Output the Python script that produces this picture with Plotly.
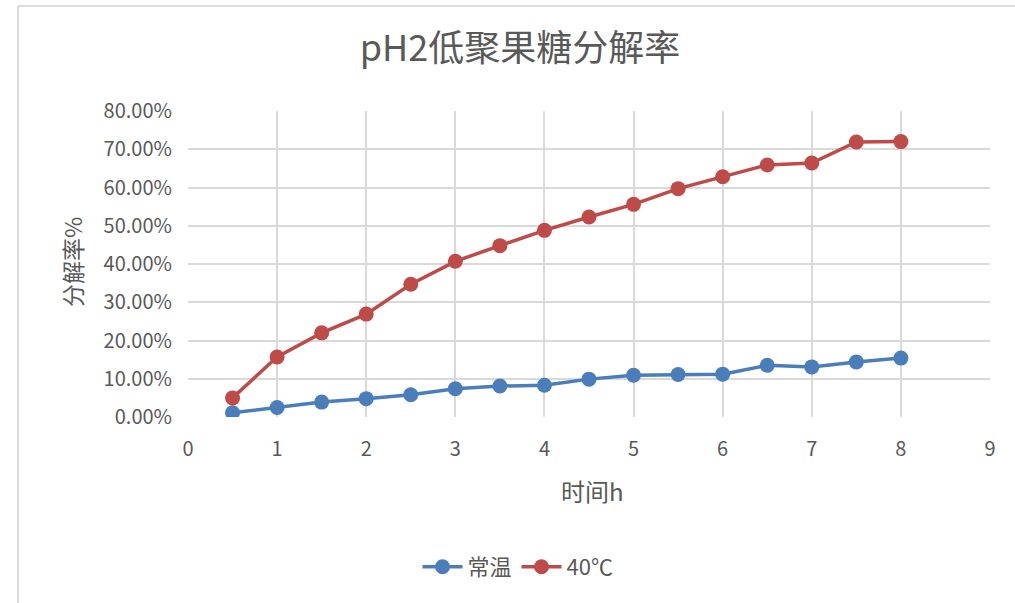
import plotly.graph_objects as go

# Sampling times (hours)
hours = [0.5, 1, 1.5, 2, 2.5, 3, 3.5, 4, 4.5, 5, 5.5, 6, 6.5, 7, 7.5, 8]

# Decomposition rate (fraction) at room temperature and at 40 °C
room_temp = [0.011, 0.025, 0.039, 0.048, 0.058, 0.074, 0.081, 0.083, 0.099,
             0.109, 0.111, 0.112, 0.135, 0.131, 0.144, 0.154]
temp_40c = [0.050, 0.157, 0.220, 0.269, 0.347, 0.407, 0.448, 0.488, 0.523,
            0.556, 0.597, 0.628, 0.659, 0.664, 0.719, 0.720]

series_names = ["常温", "40℃"]
series_colors = ["#4a7ebb", "#be4b48"]

y_ticks = [0, 0.1, 0.2, 0.3, 0.4, 0.5, 0.6, 0.7, 0.8]
x_ticks = list(range(0, 10))

FONT = "Noto Sans CJK SC"
TEXT = "#595959"
GRID = "#d9d9d9"

fig = go.Figure()
for name, vals, col in zip(series_names, [room_temp, temp_40c], series_colors):
    fig.add_trace(go.Scatter(
        x=hours, y=vals, name=name, mode="lines+markers",
        line=dict(color=col, width=3.5),
        marker=dict(color=col, size=15),
    ))

W, H = 1015, 603
L, R, T, B = 188, 25, 111, 186
pw, ph = W - L - R, H - T - B


def px_to_paper_x(px):
    return (px - L) / pw


def px_to_paper_y(py):
    return (H - B - py) / ph


fig.update_layout(
    width=W, height=H,
    margin=dict(l=L, r=R, t=T, b=B),
    paper_bgcolor="white", plot_bgcolor="white",
    font=dict(family=FONT, color=TEXT),
    title=dict(text="pH2低聚果糖分解率", font=dict(size=36, color=TEXT, family=FONT),
               xref="container", x=520 / W, xanchor="center",
               yref="container", y=1 - 48 / H, yanchor="middle"),
    xaxis=dict(range=[0, 9], tickvals=x_ticks, showgrid=True, gridcolor=GRID,
               gridwidth=1.5, zeroline=False, showline=False, ticks="",
               tickfont=dict(size=20, color=TEXT), ticklabelstandoff=18),
    yaxis=dict(range=[0, 0.8], tickvals=y_ticks, tickformat=".2%", showgrid=True,
               gridcolor=GRID, gridwidth=1.5, zeroline=False, showline=False,
               ticks="", tickfont=dict(size=20, color=TEXT), ticklabelstandoff=15),
    showlegend=True,
    legend=dict(orientation="h", xref="container", x=518 / W, xanchor="center",
                yref="container", y=1 - 567 / H, yanchor="middle",
                font=dict(size=22, color=TEXT), itemwidth=40, traceorder="normal"),
    annotations=[
        dict(text="分解率%", xref="paper", yref="paper",
             x=px_to_paper_x(72), y=px_to_paper_y(262), textangle=-90,
             showarrow=False, font=dict(size=23, color=TEXT),
             xanchor="center", yanchor="middle"),
        dict(text="时间h", xref="paper", yref="paper",
             x=px_to_paper_x(592), y=px_to_paper_y(490),
             showarrow=False, font=dict(size=24, color=TEXT),
             xanchor="center", yanchor="middle"),
    ],
    shapes=[
        dict(type="line", xref="paper", yref="paper",
             x0=px_to_paper_x(18), x1=px_to_paper_x(18),
             y0=px_to_paper_y(6), y1=px_to_paper_y(603),
             line=dict(color="#d0d0d0", width=1.5)),
        dict(type="line", xref="paper", yref="paper",
             x0=px_to_paper_x(18), x1=px_to_paper_x(1015),
             y0=px_to_paper_y(6), y1=px_to_paper_y(6),
             line=dict(color="#d0d0d0", width=1.5)),
    ],
)

fig.write_html("out.html")
